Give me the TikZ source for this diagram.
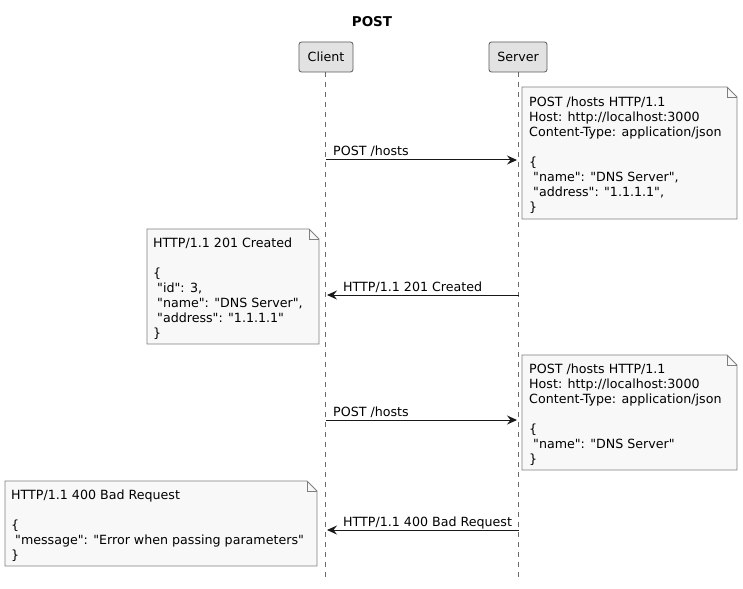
\documentclass[tikz,border=0pt]{standalone}
\usepackage{fontspec}
\setmainfont{DejaVu Sans}[Ligatures=TeXOff]
\usetikzlibrary{arrows.meta}
\definecolor{notefill}{HTML}{F8F8F8}
\definecolor{notedraw}{HTML}{7F7F7F}
\definecolor{partfill}{HTML}{E2E2E2}
\definecolor{partdraw}{HTML}{5A5A5A}
\definecolor{lifecol}{HTML}{6A6A6A}
\definecolor{msgcol}{HTML}{181818}
\newcommand{\dq}{\char34\relax}
\newcommand{\notebox}[4]{%
  \draw[notedraw, fill=notefill, line width=0.8pt] (#1,#2) -- (#3-10,#2) -- (#3,#2+10) -- (#3,#4) -- (#1,#4) -- cycle;
  \draw[notedraw, line width=0.8pt] (#3-10,#2) -- (#3-10,#2+10) -- (#3,#2+10);
}
\begin{document}
\begin{tikzpicture}[x=1pt,y=-1pt,
  txt/.style={font=\fontsize{12.65}{15}\selectfont, inner sep=0pt, align=left, anchor=north west, text=black},
  part/.style={draw=partdraw, fill=partfill, rounded corners=2.5pt, line width=0.8pt, minimum height=30pt, inner sep=0pt, font=\fontsize{12.65}{15}\selectfont},
  life/.style={lifecol, dash pattern=on 5pt off 5pt, line width=0.7pt},
  msg/.style={msgcol, line width=1pt, -{Stealth[length=10pt,width=9pt,inset=3.5pt]}},
  lbl/.style={font=\fontsize{12.65}{15}\selectfont, inner sep=0pt, anchor=base west}
]
\useasboundingbox (0,0) rectangle (743,588);
\fill[white] (0,0) rectangle (743,588);

\node[font=\bfseries\fontsize{13.5}{15}\selectfont, anchor=base] (title) at (372,27) {POST};

% lifelines
\coordinate (ctop) at (325.5,72);
\coordinate (cbot) at (325.5,578);
\coordinate (stop) at (518.5,72);
\coordinate (sbot) at (518.5,578);
\draw[life] (ctop) -- (cbot);
\draw[life] (stop) -- (sbot);

\node[part, minimum width=54pt] (client) at (326,57) {Client};
\node[part, minimum width=58pt] (server) at (518,57) {Server};

% note 1
\notebox{522}{87}{737}{219}
\node[txt] (n1) at (529,95.5) {\strut POST /hosts HTTP/1.1\\Host: http://localhost:3000\\Content-Type: application/json\\[15pt]\{\\\hspace{4pt}\dq name\dq: \dq DNS Server\dq,\\\hspace{4pt}\dq address\dq: \dq 1.1.1.1\dq,\\\}};

% message 1
\coordinate (m1c) at (325.5,160);
\coordinate (m1s) at (517,160);
\draw[msg] (m1c) -- (m1s);
\node[lbl] (l1) at (333,156) {POST /hosts};

% note 2
\notebox{147}{229}{319}{344}
\node[txt] (n2) at (153,236.5) {\strut HTTP/1.1 201 Created\\[15pt]\{\\\hspace{4pt}\dq id\dq: 3,\\\hspace{4pt}\dq name\dq: \dq DNS Server\dq,\\\hspace{4pt}\dq address\dq: \dq 1.1.1.1\dq\\\}};

% message 2
\coordinate (m2s) at (518.5,295);
\coordinate (m2c) at (327,295);
\draw[msg] (m2s) -- (m2c);
\node[lbl] (l2) at (343,291) {HTTP/1.1 201 Created};

% note 3
\notebox{522}{355}{737}{470}
\node[txt] (n3) at (529,362.5) {\strut POST /hosts HTTP/1.1\\Host: http://localhost:3000\\Content-Type: application/json\\[15pt]\{\\\hspace{4pt}\dq name\dq: \dq DNS Server\dq\\\}};

% message 3
\coordinate (m3c) at (325.5,420);
\coordinate (m3s) at (517,420);
\draw[msg] (m3c) -- (m3s);
\node[lbl] (l3) at (333,416) {POST /hosts};

% note 4
\notebox{5}{481}{317}{566}
\node[txt] (n4) at (11,488.5) {\strut HTTP/1.1 400 Bad Request\\[15pt]\{\\\hspace{4pt}\dq message\dq: \dq Error when passing parameters\dq\\\}};

% message 4
\coordinate (m4s) at (518.5,530);
\coordinate (m4c) at (327,530);
\draw[msg] (m4s) -- (m4c);
\node[lbl] (l4) at (343,526) {HTTP/1.1 400 Bad Request};
\end{tikzpicture}
\end{document}
